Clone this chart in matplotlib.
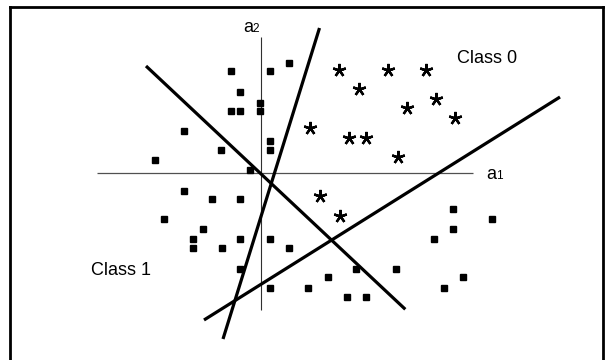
import matplotlib.pyplot as plt
from matplotlib.lines import Line2D

plt.rcParams['font.family'] = ['Liberation Sans', 'DejaVu Sans']

# ----------------------------------
# Data (a1, a2 coordinates, origin at axis crossing)
# ----------------------------------

class1_a1 = [-30, 9, 28, -20.5, -30, -20.5, -0.5, -0.5, -77, 9, 9, -39.5, -105.5, -10.5,
             -77, -48.5, -20.5, -96.5, -58, -68, -68, -38.5, -20.5, 9, 28, -20.5, 9, 47.5,
             192, 231, 192, 173, 95.5, 135, 67, 202, 183, 86, 105.5]
class1_a2 = [102, 102, 110, 81, 62.5, 62.5, 70, 62.5, 42, 32, 23, 23, 13, 3,
             -18, -26, -26, -46, -56, -66, -75, -75, -66, -66, -75, -95, -114, -114,
             -36, -46, -56, -66, -95, -95, -103, -103, -114, -123, -123]

class0_a1 = [78, 127, 165, 98, 175.5, 146, 194.5, 49.5, 88, 105.5, 137, 59.5, 79]
class0_a2 = [103.5, 103.5, 103.5, 84, 74.5, 65, 55, 45, 35, 35, 16, -23, -43]

# separating lines: (start, end)
line_a1 = [(-114.5, 144.8), (59, -37.5), (299.5, -56.5)]
line_a2 = [(107.5, -135.8), (145.5, -165.5), (76.5, -146.5)]

# coordinate axes extent
axis_a1 = (-163.8, 212.8)
axis_a2 = (136.8, -136.5)

# ----------------------------------
# Plot
# ----------------------------------

fig = plt.figure(figsize=(6.08, 3.6), dpi=100)
ax = fig.add_axes([0, 0, 1, 1])
ax.set_xlim(-260.5, 347.5)
ax.set_ylim(-186.5, 173.5)
ax.axis('off')

# coordinate axes
ax.plot(axis_a1, (0, 0), color='#505050', lw=0.9, solid_capstyle='butt', zorder=1)
ax.plot((0, 0), axis_a2, color='#303030', lw=0.8, solid_capstyle='butt', zorder=1)

# separating lines
for xs, ys in zip(line_a1, line_a2):
    ax.plot(xs, ys, color='black', lw=2.3, solid_capstyle='butt', zorder=2)

# points
ax.plot(class1_a1, class1_a2, 's', color='black', markersize=3.7, zorder=3)
ax.plot(class0_a1, class0_a2, linestyle='none', marker=(5, 2, 0), color='black',
        markersize=9.5, markeredgewidth=1.7, zorder=3)

# labels
ax.text(-17.5, 141.8, 'a', fontsize=13, va='baseline', ha='left')
ax.text(-8.5, 141.8, '2', fontsize=8.5, va='baseline', ha='left')
ax.text(226.2, -5.5, 'a', fontsize=13, va='baseline', ha='left')
ax.text(235.2, -5.5, '1', fontsize=8.5, va='baseline', ha='left')
ax.text(196.2, 110.8, 'Class 0', fontsize=13, va='baseline', ha='left')
ax.text(-169.8, -101.5, 'Class 1', fontsize=13, va='baseline', ha='left')

# frame around the picture
W, H = 608, 360
for (x0, y0, x1, y1) in [(9.5, 0, 9.5, H - 6.5), (9.5, H - 6.5, 602.7, H - 6.5),
                         (602.7, H - 6.5, 602.7, 0)]:
    fig.add_artist(Line2D([x0 / W, x1 / W], [y0 / H, y1 / H], color='black', lw=2,
                          transform=fig.transFigure))

fig.savefig('out.png', dpi=100, facecolor='white')
